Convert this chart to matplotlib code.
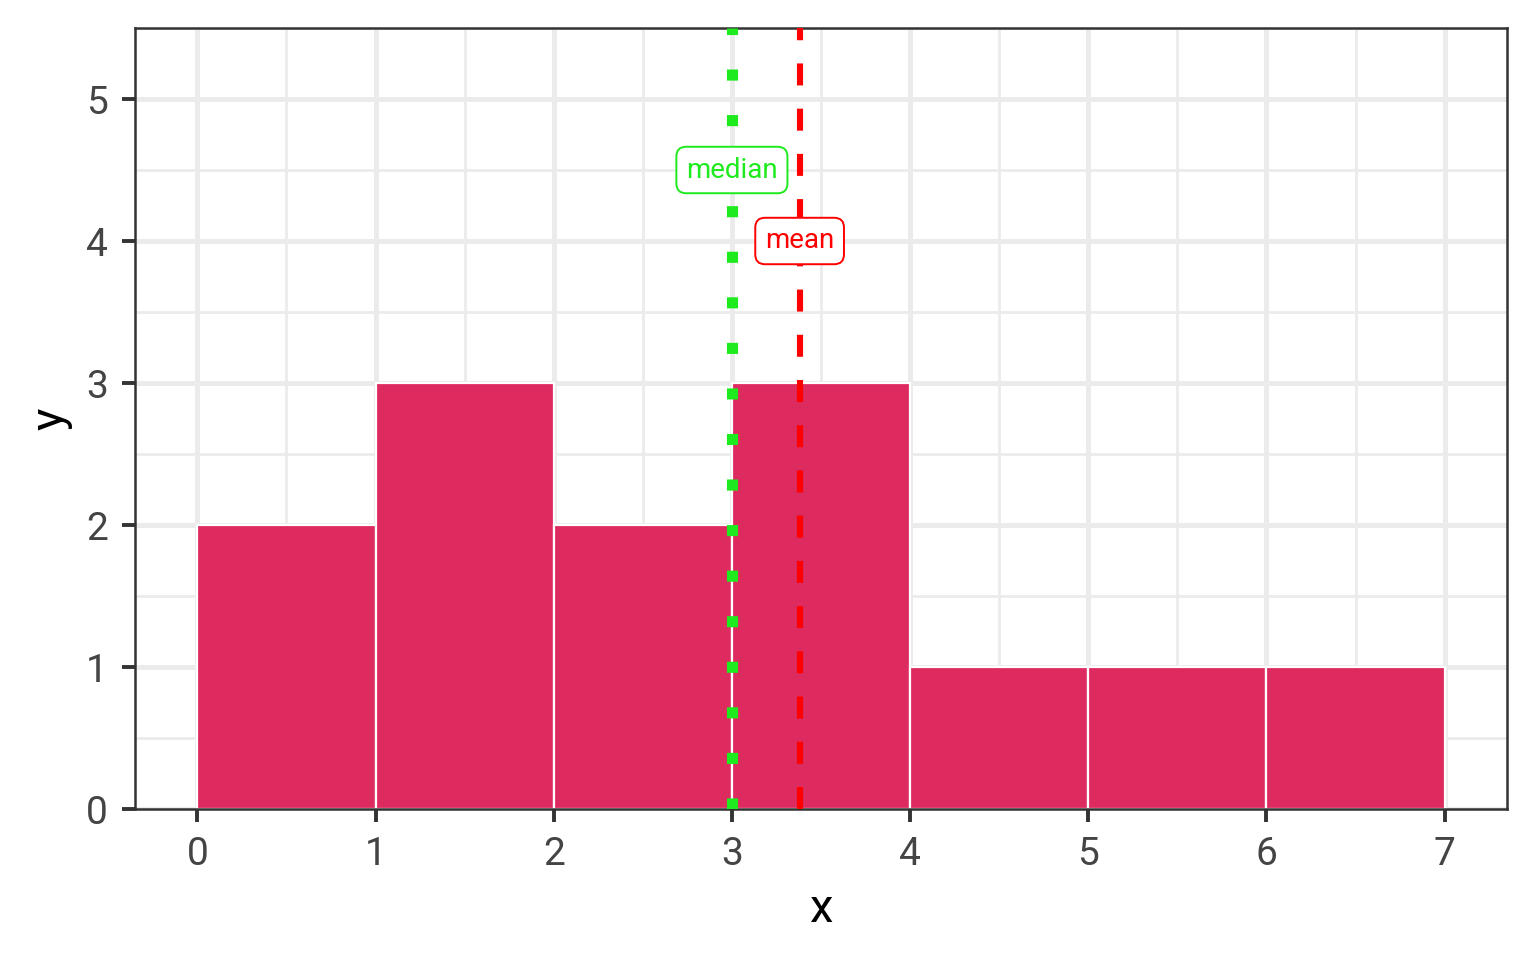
import numpy as np
import matplotlib
matplotlib.use("Agg")
import matplotlib.pyplot as plt
from matplotlib.ticker import MultipleLocator

plt.rcParams['font.family'] = ['Roboto', 'DejaVu Sans']

# histogram data (bin width 1)
bin_edges = [0, 1, 2, 3, 4, 5, 6, 7]
counts = [2, 3, 2, 3, 1, 1, 1]
median_x = 3.0
mean_x = 3.38
median_label_y = 4.5
mean_label_y = 4.0

bar_color = '#DD2A5F'
green = '#1EEB1E'
red = '#FF0000'

fig = plt.figure(figsize=(7.68, 4.8), dpi=200)
ax = fig.add_axes([135 / 1536, 1 - 809 / 960, (1507 - 135) / 1536, (809 - 28) / 960])

lefts = np.array(bin_edges[:-1])
widths = np.diff(bin_edges)
ax.bar(lefts, counts, width=widths, align='edge', color=bar_color,
       edgecolor='white', linewidth=0.8, zorder=2)

# reference lines
ax.axvline(median_x, color=green, lw=4, linestyle=(0, (1, 3.1)),
           dash_capstyle='butt', zorder=3)
ax.axvline(mean_x, color=red, lw=2.2, linestyle=(0, (3.6, 3.8)),
           dash_capstyle='butt', zorder=3)

box = dict(boxstyle='round,pad=0.35,rounding_size=0.35', fc='white', lw=0.7)
ax.text(median_x, median_label_y, 'median', color=green, fontsize=10,
        ha='center', va='center', zorder=4, bbox=dict(box, ec=green))
ax.text(mean_x, mean_label_y, 'mean', color=red, fontsize=10,
        ha='center', va='center', zorder=4, bbox=dict(box, ec=red))

ax.set_xlim(-0.35, 7.35)
ax.set_ylim(0, 5.5)
ax.set_xticks(range(0, 8))
ax.set_yticks(range(0, 6))
ax.xaxis.set_minor_locator(MultipleLocator(0.5))
ax.yaxis.set_minor_locator(MultipleLocator(0.5))

ax.set_axisbelow(True)
ax.grid(which='major', color='#EBEBEB', lw=1.8)
ax.grid(which='minor', color='#EBEBEB', lw=1.0)

for s in ax.spines.values():
    s.set_color('#333333')
    s.set_linewidth(0.9)

ax.tick_params(which='major', length=4.7, width=1.4, color='#333333',
               labelcolor='#444444', labelsize=14, pad=5)
ax.tick_params(which='minor', length=0)

ax.set_xlabel('x', fontsize=17)
ax.set_ylabel('y', fontsize=17)
ax.xaxis.set_label_coords(0.5, (809 - 922) / 781)
ax.xaxis.label.set_va('baseline')
ax.yaxis.set_label_coords((50 - 135) / 1372, 0.5)
ax.yaxis.label.set_va('center')

fig.savefig('out.png', dpi=200, facecolor='white')
